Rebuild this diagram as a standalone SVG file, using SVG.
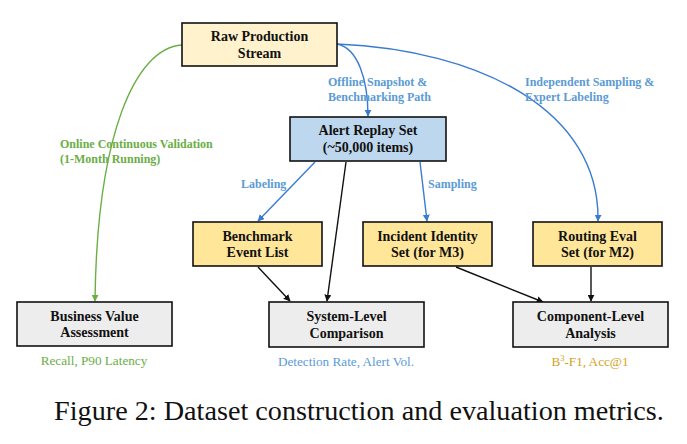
<svg xmlns="http://www.w3.org/2000/svg" width="687" height="444" viewBox="0 0 687 444">
<defs>
<style>
.box{stroke:#111;stroke-width:1.6}
.nt{font-family:"Liberation Serif",serif;font-weight:bold;font-size:14px;fill:#111;text-anchor:middle}
.el{font-family:"Liberation Serif",serif;font-weight:bold;font-size:12px}
.mt{font-family:"Liberation Serif",serif;font-size:13.2px;text-anchor:middle}
.g{fill:#6aae45}.b{fill:#5b9bd5}
.k{stroke:#111;stroke-width:1.4;fill:none}
.bl{stroke:#3a7bd0;stroke-width:1.4;fill:none}
.gr{stroke:#6aae45;stroke-width:1.4;fill:none}
</style>
<marker id="ak" viewBox="0 0 10 10" refX="9" refY="5" markerWidth="7" markerHeight="7" orient="auto-start-reverse" markerUnits="userSpaceOnUse"><path d="M0,0 L10,5 L0,10 z" fill="#111"/></marker>
<marker id="ab" viewBox="0 0 10 10" refX="9" refY="5" markerWidth="7" markerHeight="7" orient="auto-start-reverse" markerUnits="userSpaceOnUse"><path d="M0,0 L10,5 L0,10 z" fill="#3a7bd0"/></marker>
<marker id="ag" viewBox="0 0 10 10" refX="9" refY="5" markerWidth="7" markerHeight="7" orient="auto-start-reverse" markerUnits="userSpaceOnUse"><path d="M0,0 L10,5 L0,10 z" fill="#6aae45"/></marker>
</defs>
<rect width="687" height="444" fill="#fff"/>
<g id="connectors">
<path class="gr" d="M182,45 C135,48 97,135 95,301" marker-end="url(#ag)"/>
<path class="bl" d="M337,44 C358,48 368,80 368,116" marker-end="url(#ab)"/>
<path class="bl" d="M337,44 C480,50 600,110 598,221" marker-end="url(#ab)"/>
<path class="bl" d="M315,162 L258,221" marker-end="url(#ab)"/>
<path class="bl" d="M420,162 L427,221" marker-end="url(#ab)"/>
<path class="k" d="M346,162 L327,301" marker-end="url(#ak)"/>
<path class="k" d="M258,267 L290,301" marker-end="url(#ak)"/>
<path class="k" d="M456,267 L543,302" marker-end="url(#ak)"/>
<path class="k" d="M591,267 L591,301" marker-end="url(#ak)"/>
<text class="el g" x="60" y="148">Online Continuous Validation</text>
<text class="el g" x="60" y="163">(1-Month Running)</text>
<text class="el b" x="328" y="86">Offline Snapshot &amp;</text>
<text class="el b" x="328" y="101">Benchmarking Path</text>
<text class="el b" x="525" y="86">Independent Sampling &amp;</text>
<text class="el b" x="525" y="101">Expert Labeling</text>
<text class="el b" x="241" y="188">Labeling</text>
<text class="el b" x="428" y="188">Sampling</text>
</g>
<g id="raw"><rect class="box" x="182" y="23" width="155" height="43" fill="#fff2cc"/><text class="nt" x="259.5" y="41">Raw Production</text><text class="nt" x="259.5" y="58">Stream</text></g>
<g id="alert"><rect class="box" x="290" y="117" width="156" height="44" fill="#bdd7ee"/><text class="nt" x="368" y="135">Alert Replay Set</text><text class="nt" x="368" y="152">(~50,000 items)</text></g>
<g id="bench"><rect class="box" x="193" y="222" width="129" height="44" fill="#ffe699"/><text class="nt" x="257.5" y="241">Benchmark</text><text class="nt" x="257.5" y="257">Event List</text></g>
<g id="incident"><rect class="box" x="363" y="222" width="129" height="44" fill="#ffe699"/><text class="nt" x="427.5" y="241">Incident Identity</text><text class="nt" x="427.5" y="257">Set (for M3)</text></g>
<g id="routing"><rect class="box" x="533" y="222" width="129" height="44" fill="#ffe699"/><text class="nt" x="597.5" y="241">Routing Eval</text><text class="nt" x="597.5" y="257">Set (for M2)</text></g>
<g id="business"><rect class="box" x="17" y="302" width="155" height="44" fill="#ededed"/><text class="nt" x="94.5" y="321">Business Value</text><text class="nt" x="94.5" y="337">Assessment</text></g>
<g id="system"><rect class="box" x="269" y="302" width="155" height="45" fill="#ededed"/><text class="nt" x="346.5" y="321">System-Level</text><text class="nt" x="346.5" y="338">Comparison</text></g>
<g id="component"><rect class="box" x="513" y="302" width="155" height="45" fill="#ededed"/><text class="nt" x="590.5" y="321">Component-Level</text><text class="nt" x="590.5" y="338">Analysis</text></g>
<text class="mt" x="94" y="365" fill="#6aae45">Recall, P90 Latency</text>
<text class="mt" x="346" y="366" fill="#5b9bd5">Detection Rate, Alert Vol.</text>
<text class="mt" x="590" y="366" fill="#d4a21c">B<tspan dy="-5" font-size="8.5">3</tspan><tspan dy="5">-F1, Acc@1</tspan></text>
<text x="359" y="420" font-family="Liberation Serif,serif" font-size="28.2" text-anchor="middle" fill="#111">Figure 2: Dataset construction and evaluation metrics.</text>
</svg>
